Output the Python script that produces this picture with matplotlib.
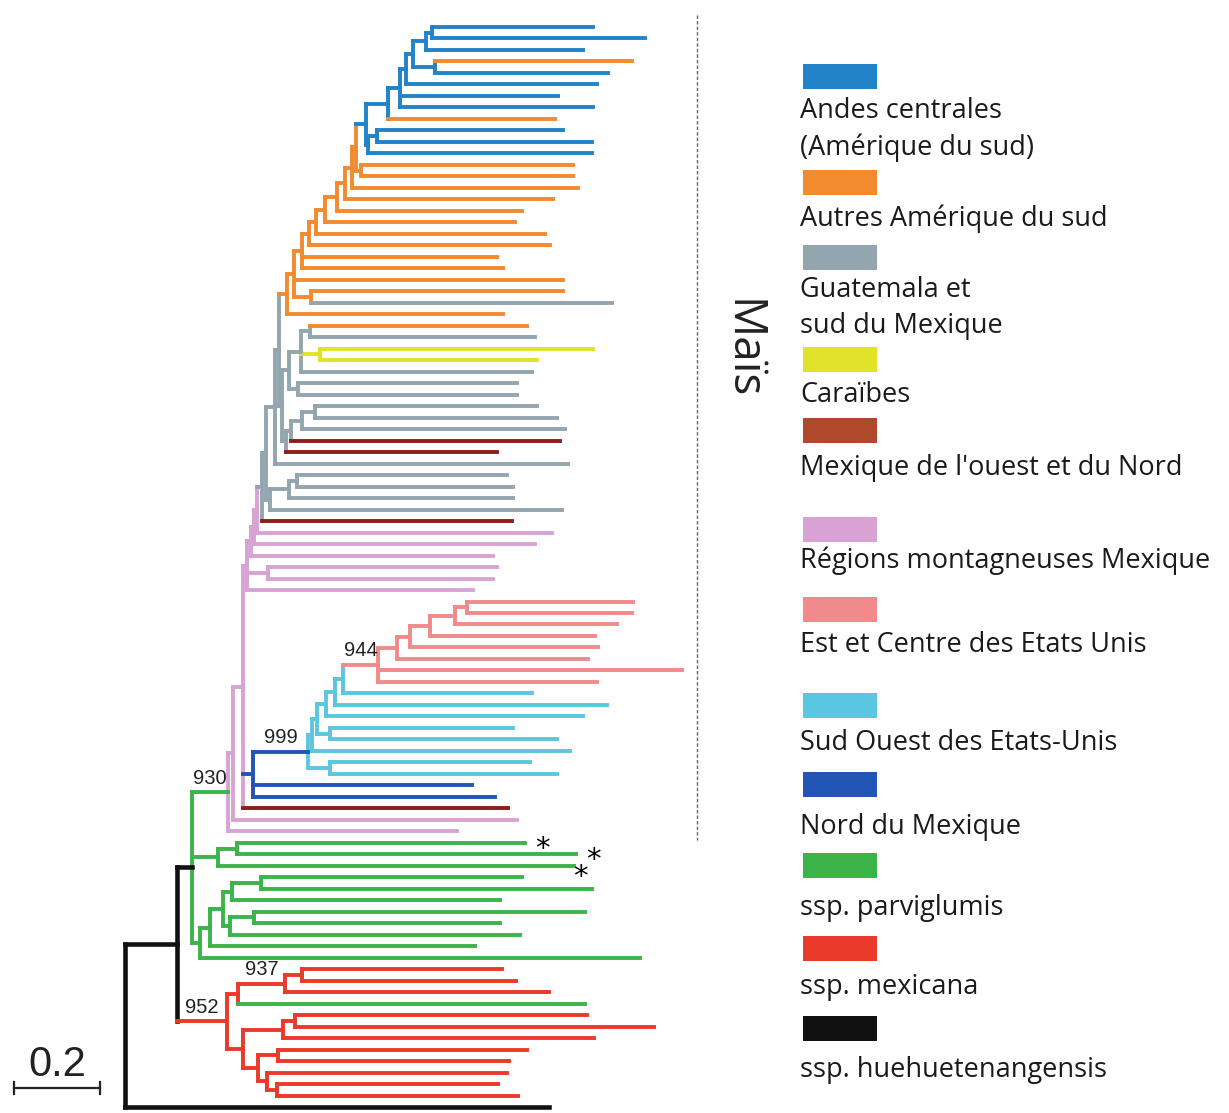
import matplotlib
matplotlib.use("Agg")
import matplotlib.pyplot as plt
from matplotlib.collections import LineCollection
from matplotlib.patches import Rectangle

# ---------------------------------------------------------------- data
# clade codes
clade_color = {
    "B": "#2283c9",   # Andes centrales
    "O": "#f28a30",   # Autres Amérique du sud
    "G": "#93a6b0",   # Guatemala et sud du Mexique
    "Y": "#e2e22a",   # Caraïbes
    "D": "#8e1e1c",   # Mexique de l'ouest et du Nord
    "P": "#d8a2d5",   # Régions montagneuses Mexique
    "S": "#f18b8b",   # Est et Centre des Etats Unis
    "C": "#5ac6e0",   # Sud Ouest des Etats-Unis
    "N": "#2255b4",   # Nord du Mexique
    "V": "#3cb44a",   # ssp. parviglumis
    "R": "#ea3a2b",   # ssp. mexicana
    "K": "#111111",   # ssp. huehuetenangensis
}

legend_codes = ["B", "O", "G", "Y", "D", "P", "S", "C", "N", "V", "R", "K"]
legend_labels = [
    ["Andes centrales", "(Amérique du sud)"],
    ["Autres Amérique du sud"],
    ["Guatemala et", "sud du Mexique"],
    ["Caraïbes"],
    ["Mexique de l'ouest et du Nord"],
    ["Régions montagneuses Mexique"],
    ["Est et Centre des Etats Unis"],
    ["Sud Ouest des Etats-Unis"],
    ["Nord du Mexique"],
    ["ssp. parviglumis"],
    ["ssp. mexicana"],
    ["ssp. huehuetenangensis"],
]
legend_swatch = dict(clade_color, D="#b0492b")

# leaves, top to bottom: clade of each accession
leaf_clade = list("BBBOBBBBOBBB" "OOOOOOOOOOOO" "GOOGYYGGGGGG" "DDGGGGGD"
                  "PPPPPP" "SSSSSSSS" "CCCCCCCC" "NN" "D" "PP"
                  "VVVVVVVVVVV" "RRR" "V" "RRRRRRRR" "K")

# root-to-tip distance of each leaf (substitutions / site)
leaf_tip = [
    1.088, 1.209, 1.065, 1.179, 1.123, 1.098, 1.007, 1.088, 1.000, 1.019,
    1.086, 1.086, 1.042, 1.042, 1.053, 0.995, 0.923, 0.907, 0.977, 0.988,
    0.865, 0.879, 1.019, 1.019, 1.133, 0.879, 0.935, 0.953, 1.088, 0.958,
    0.947, 0.912, 0.912, 0.958, 1.005, 1.023, 1.012, 0.865, 1.030, 0.888,
    0.902, 0.902, 1.016, 0.900, 0.993, 0.953, 0.856, 0.865, 0.856, 0.809,
    1.181, 1.179, 1.144, 1.093, 1.100, 1.077, 1.295, 1.098, 0.947, 1.121,
    1.065, 0.902, 1.005, 1.035, 0.942, 1.005, 0.807, 0.860, 0.891, 0.912,
    0.772, 0.930, 1.049, 1.044, 0.923, 1.086, 0.872, 1.070, 0.872, 0.919,
    0.814, 1.198, 0.877, 0.909, 0.986, 1.070, 1.074, 1.230, 1.091, 0.935,
    0.893, 0.888, 0.867, 0.914, 0.986,
]

# internal nodes: (name, children, root-to-node distance, clade)
node_table = [
    ("u01", [0, 1], 0.714, "B"),
    ("u02", ["u01", 2], 0.700, "B"),
    ("u34", [3, 4], 0.721, "B"),
    ("u04", ["u02", "u34"], 0.670, "B"),
    ("u05", ["u04", 5], 0.653, "B"),
    ("u07", ["u05", 6, 7], 0.640, "B"),
    ("u08", ["u07", 8], 0.612, "B"),
    ("u910", [9, 10], 0.586, "B"),
    ("u911", ["u910", 11], 0.565, "B"),
    ("u011", ["u08", "u911"], 0.560, "B"),
    ("o1213", [12, 13], 0.549, "O"),
    ("o12", ["u011", "o1213"], 0.537, "O"),
    ("o14", ["o12", 14], 0.528, "O"),
    ("o15", ["o14", 15], 0.512, "O"),
    ("o16", ["o15", 16], 0.493, "O"),
    ("o17", ["o16", 17], 0.465, "O"),
    ("o18", ["o17", 18], 0.444, "O"),
    ("o19", ["o18", 19], 0.428, "O"),
    ("o21", ["o19", 20, 21], 0.412, "O"),
    ("o2324", [23, 24], 0.433, "O"),
    ("o22", ["o21", 22, "o2324"], 0.393, "O"),
    ("o25", ["o22", 25], 0.377, "O"),
    ("g26", [26, 27], 0.430, "G"),
    ("g28", [28, 29], 0.453, "Y"),
    ("g30", ["g26", "g28", 30], 0.409, "G"),
    ("g31", [31, 32], 0.402, "G"),
    ("g3a", ["g30", "g31"], 0.381, "G"),
    ("g33", [33, 34], 0.442, "G"),
    ("g35", ["g33", 35], 0.412, "G"),
    ("g36", ["g35", 36], 0.386, "G"),
    ("g37", ["g36", 37], 0.374, "G"),
    ("g3b", ["g3a", "g37"], 0.365, "G"),
    ("gA", ["o25", "g3b"], 0.358, "G"),
    ("g38", ["gA", 38], 0.349, "G"),
    ("g3940", [39, 40], 0.400, "G"),
    ("g41", ["g3940", 41], 0.381, "G"),
    ("g42", ["g41", 42], 0.337, "G"),
    ("g43", ["g38", "g42"], 0.328, "G"),
    ("g44", ["g43", 43], 0.319, "G"),
    ("p44", ["g44", 44], 0.307, "P"),
    ("p45", ["p44", 45], 0.300, "P"),
    ("p46", ["p45", 46], 0.293, "P"),
    ("p47", [47, 48], 0.333, "P"),
    ("pU", ["p46", "p47", 49], 0.284, "P"),
    ("S1", [50, 51], 0.795, "S"),
    ("S2", ["S1", 52], 0.767, "S"),
    ("S3", ["S2", 53], 0.709, "S"),
    ("S4", ["S3", 54], 0.663, "S"),
    ("S5", ["S4", 55], 0.633, "S"),
    ("Sr", ["S5", 56, 57], 0.588, "S"),
    ("n944", ["Sr", 58], 0.507, "C"),
    ("C1", ["n944", 59], 0.488, "C"),
    ("C2", ["C1", 60], 0.467, "C"),
    ("C3", [61, 62], 0.477, "C"),
    ("C4", ["C2", "C3"], 0.447, "C"),
    ("C5", ["C4", 63], 0.435, "C"),
    ("C6", [64, 65], 0.477, "C"),
    ("C7", ["C5", "C6"], 0.426, "C"),
    ("Nm", ["C7", 66, 67], 0.298, "N"),
    ("M2", ["pU", "Nm", 68], 0.274, "P"),
    ("M1", ["M2", 69], 0.251, "P"),
    ("M0", ["M1", 70], 0.240, "P"),
    ("G1a", [71, 72], 0.260, "V"),
    ("G1", ["G1a", 73], 0.216, "V"),
    ("G2a1", [74, 75], 0.316, "V"),
    ("G2a", ["G2a1", 76], 0.249, "V"),
    ("G2b1", [77, 78], 0.300, "V"),
    ("G2b", ["G2b1", 79], 0.244, "V"),
    ("G2", ["G2a", "G2b"], 0.228, "V"),
    ("G2c", ["G2", 80], 0.198, "V"),
    ("G2d", ["G2c", 81], 0.174, "V"),
    ("Gr", ["M0", "G1", "G2d"], 0.156, "V"),
    ("r8283", [82, 83], 0.412, "R"),
    ("r937", ["r8283", 84], 0.372, "R"),
    ("r238", ["r937", 85], 0.263, "R"),
    ("A1", [86, 87], 0.395, "R"),
    ("A", ["A1", 88], 0.367, "R"),
    ("B1", [89, 90], 0.356, "R"),
    ("B2", [92, 93], 0.353, "R"),
    ("B3", [91, "B2"], 0.330, "R"),
    ("B4", ["B1", "B3"], 0.309, "R"),
    ("Rlow", ["A", "B4"], 0.274, "R"),
    ("R952", ["r238", "Rlow"], 0.237, "R"),
    ("T", ["Gr", "R952"], 0.121, "K"),
    ("root", ["T", 94], 0.000, "K"),
]

# branches whose colour differs from the clade of the node they lead to
stem_clade = {"C7": "N", "M0": "V", "Gr": "K"}

# bootstrap support shown on branches
support = {"Sr": "944", "C7": "999", "M0": "930", "r937": "937", "R952": "952"}

marked_leaves = [71, 72, 73]   # accessions flagged with an asterisk
scale_length = 0.2

# ---------------------------------------------------------------- layout
W, H = 1229, 1113
PX_PER_UNIT = 430.0
ROOT_PX = 125.0
ROW0_PX, ROW_PX = 27.0, 11.49
LW, LW_BLACK = 2.8, 3.3

fig = plt.figure(figsize=(W / 100, H / 100), dpi=100)
ax = fig.add_axes([0, 0, 1, 1])
ax.set_xlim(-ROOT_PX / PX_PER_UNIT, (W - ROOT_PX) / PX_PER_UNIT)
ax.set_ylim((H - ROW0_PX) / ROW_PX, -ROW0_PX / ROW_PX)
ax.axis("off")

nodes = {name: (kids, d, c) for name, kids, d, c in node_table}
_y = {}


def depth(n):
    return leaf_tip[n] if isinstance(n, int) else nodes[n][1]


def ypos(n):
    if isinstance(n, int):
        return float(n)
    if n not in _y:
        ys = [ypos(k) for k in nodes[n][0]]
        _y[n] = 0.5 * (min(ys) + max(ys))
    return _y[n]


def stem_color(n):
    if isinstance(n, int):
        return clade_color[leaf_clade[n]]
    return clade_color[stem_clade.get(n, nodes[n][2])]


segs, cols, lws = [], [], []
for name, kids, d, c in node_table:
    ys = [ypos(k) for k in kids]
    segs.append([(d, min(ys)), (d, max(ys))])
    cols.append(clade_color[c])
    lws.append(LW_BLACK if c == "K" else LW)
    for k in kids:
        segs.append([(d, ypos(k)), (depth(k), ypos(k))])
        col = stem_color(k)
        cols.append(col)
        lws.append(LW_BLACK if col == clade_color["K"] else LW)

ax.add_collection(LineCollection(segs, colors=cols, linewidths=lws,
                                 capstyle="projecting", joinstyle="miter"))

# support values
for name, txt in support.items():
    parent = next(p for p, kids, _, _ in node_table if name in kids)
    xm = 0.5 * (nodes[parent][1] + nodes[name][1])
    ax.text(xm, ypos(name) - 0.4, txt, ha="center", va="bottom",
            fontsize=14.5, family="Liberation Sans", color="#222222")

# asterisks
star_offsets = [(0.04, 0.0), (0.04, 0.0), (0.015, 0.45)]
for leaf, (dx, dy) in zip(marked_leaves, star_offsets):
    ax.text(leaf_tip[leaf] + dx, leaf + dy + 1.2, "*", ha="center",
            va="baseline", fontsize=21, family="DejaVu Sans", color="black")

# scale bar
sb_x0 = (14 - ROOT_PX) / PX_PER_UNIT
sb_y = (1088 - ROW0_PX) / ROW_PX
ax.plot([sb_x0, sb_x0 + scale_length], [sb_y, sb_y], color="#222222", lw=1.6)
for xx in (sb_x0, sb_x0 + scale_length):
    ax.plot([xx, xx], [sb_y - 0.5, sb_y + 0.5], color="#222222", lw=1.6)
ax.text(sb_x0 + scale_length / 2, (1076 - ROW0_PX) / ROW_PX, f"{scale_length:g}",
        ha="center", va="baseline", fontsize=30, family="Liberation Sans",
        color="#222222")

# ---------------------------------------------------------------- overlay (pixel space)
ov = fig.add_axes([0, 0, 1, 1], facecolor="none")
ov.set_xlim(0, W)
ov.set_ylim(H, 0)
ov.axis("off")

# maize bracket line and label
ov.plot([697, 697], [15, 840], color="#666666", lw=1.0, ls=(0, (2.5, 1.5)))
ov.text(741, 349, "Maïs", rotation=-90, ha="center", va="center",
        fontsize=33, family="Open Sans", color="#222222")

swatch_top = [64, 170, 245, 347, 418, 517, 597, 693, 772, 853, 936, 1016]
text_base = [[118, 155], [226], [297, 333], [402], [475], [568], [652], [750],
             [834], [915], [994], [1077]]
for code, labels, top, bases in zip(legend_codes, legend_labels, swatch_top, text_base):
    ov.add_patch(Rectangle((803, top), 74, 25, facecolor=legend_swatch[code],
                           edgecolor="none"))
    for lab, b in zip(labels, bases):
        ov.text(800, b, lab, ha="left", va="baseline", fontsize=19.5,
                family="Open Sans", color="#1a1a1a")

fig.savefig("out.png", dpi=100, facecolor="white")
